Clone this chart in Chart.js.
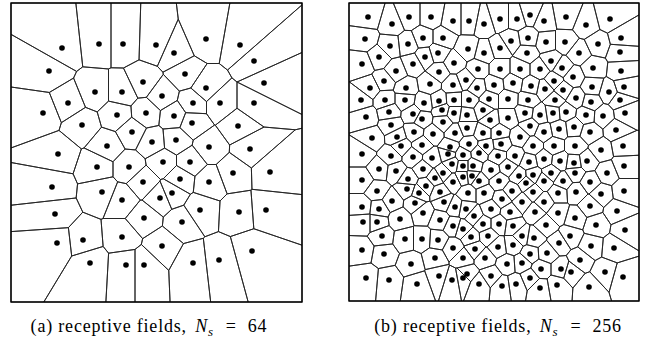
<!DOCTYPE html>
<html>
<head>
<meta charset="utf-8">
<script src="https://cdn.jsdelivr.net/npm/chart.js@4.4.0/dist/chart.umd.min.js"></script>
<style>
  body { margin: 0; background: #fff; width: 650px; height: 343px; position: relative; overflow: hidden; }
  .panel { position: absolute; }
  .panel canvas { display: block; }
  .caption {
    position: absolute; top: 316px; transform: translateX(-50%);
    font-family: "Liberation Serif", "DejaVu Serif", serif; font-size: 18px; line-height: 20px;
    letter-spacing: 0.8px; white-space: nowrap; color: #000;
  }
  .caption .n { margin-left: 3px; }
  .caption sub { font-size: 13px; vertical-align: -4px; line-height: 0; }
  .caption .eq { margin: 0 11px 0 12px; }
</style>
</head>
<body>
<div class="panel" style="left:7px;top:-1px"><canvas id="chartA" width="299" height="307"></canvas></div>
<div class="panel" style="left:345px;top:-1px"><canvas id="chartB" width="298" height="306"></canvas></div>
<div class="caption" id="capA" style="left:149px"></div>
<div class="caption" id="capB" style="left:498px"></div>
<script>
// receptive field centres (x from the left, y from the top)
const sitesA = [
  [62,48],[99,44],[123,44],[156,45],[174,53],[206,39],[240,45],[254,61],
  [49,71],[185,74],[264,83],[143,82],[206,88],[95,92],[122,92],[162,96],
  [68,103],[193,103],[220,103],[254,103],[43,113],[117,115],[146,113],[174,116],
  [82,125],[192,123],[238,126],[132,132],[152,142],[176,140],[107,146],[209,147],
  [250,149],[58,154],[97,167],[129,167],[163,162],[190,162],[233,173],[270,172],
  [180,179],[209,182],[143,182],[52,187],[102,192],[172,193],[160,198],[122,200],
  [55,214],[200,210],[239,212],[266,210],[144,218],[182,222],[83,240],[122,237],
  [57,243],[162,246],[252,251],[90,263],[126,265],[144,265],[193,263],[219,260]
];

const sitesB = [
  [368,17],[392,24],[409,17],[431,17],[365,39],[390,46],[408,44],[423,38],
  [443,38],[379,57],[362,64],[425,57],[438,53],[413,64],[396,71],[439,72],
  [384,81],[430,84],[370,88],[406,88],[361,100],[385,100],[405,100],[424,103],
  [439,101],[389,112],[442,110],[366,117],[413,114],[422,119],[391,125],[443,122],
  [372,138],[397,137],[414,132],[433,134],[401,146],[422,145],[362,154],
  [453,21],[469,21],[484,24],[500,19],[517,19],[530,15],[511,41],[528,38],
  [468,49],[484,53],[500,48],[527,53],[454,63],[478,69],[500,69],[520,69],
  [540,69],[466,80],[494,85],[513,83],[531,86],[453,85],[477,88],[489,99],[508,99],
  [528,100],[454,100],[469,100],[454,113],[467,115],[483,110],[525,113],[490,120],
  [508,118],[540,115],[467,128],[455,133],[483,133],[499,133],[520,137],[530,126],
  [469,144],[486,146],[501,144],[533,146],[450,147],
  [544,21],[566,17],[586,25],[610,19],[546,42],[565,42],[598,44],[621,38],
  [579,53],[620,52],[551,61],[562,68],[593,68],[621,71],[573,77],[554,81],
  [545,89],[563,90],[592,87],[609,92],[624,87],[555,100],[576,98],[591,102],
  [620,100],[553,113],[566,112],[586,115],[603,116],[625,113],[574,127],[544,132],
  [559,129],[590,132],[616,130],[554,146],[575,146],[601,150],[623,146],
  [391,156],[413,157],[432,158],[379,169],[396,171],[423,169],[443,173],[362,180],
  [408,179],[435,178],[426,186],[377,191],[407,189],[419,193],[440,192],[392,201],
  [415,203],[444,202],[362,207],[379,209],[423,213],[400,219],[363,222],[377,222],
  [440,220],[382,236],[405,239],[422,239],[438,240],[362,250],[384,254],[435,258],
  [411,264],[366,278],[389,280],[439,276],[417,284],
  [448,154],[463,155],[479,153],[498,156],[515,156],[529,162],[452,164],[463,166],
  [473,166],[491,170],[508,167],[472,176],[463,177],[519,176],[533,175],[453,182],
  [479,181],[499,181],[526,183],[468,193],[484,193],[512,191],[533,192],[455,207],
  [502,199],[522,202],[466,209],[491,209],[510,212],[535,212],[474,216],[453,226],
  [483,224],[499,224],[513,226],[463,229],[471,237],[488,236],[522,236],[534,238],
  [513,245],[498,247],[453,248],[475,249],[530,254],[463,258],[485,258],[507,264],
  [522,263],[541,269],[467,274],[463,278],[452,280],[491,276],[530,278],[479,284],
  [502,286],[516,284],[540,288],
  [544,159],[560,161],[574,163],[587,161],[624,166],[551,173],[575,173],[607,173],
  [544,181],[563,181],[590,182],[558,193],[576,192],[601,194],[624,191],[544,202],
  [590,206],[617,211],[558,213],[575,218],[546,225],[596,225],[625,230],[570,236],
  [559,243],[591,246],[614,248],[547,253],[580,260],[561,269],[571,272],[605,272],
  [623,277],[557,285],[589,287]
];

// extent of each square (same units as the sites)
const rangeAX = [11, 302], rangeAY = [3, 302];
const rangeBX = [349, 639], rangeBY = [3, 301];

const captionTags = ["(a)", "(b)"];
const captionText = "receptive fields,";
const sampleCounts = [64, 256];

// keep the part of poly where (p - a)·n <= 0
function clipHalf(poly, ax, ay, nx, ny) {
  const out = [];
  for (let k = 0; k < poly.length; k++) {
    const p = poly[k], q = poly[(k + 1) % poly.length];
    const dp = (p[0] - ax) * nx + (p[1] - ay) * ny;
    const dq = (q[0] - ax) * nx + (q[1] - ay) * ny;
    if (dp <= 0) out.push(p);
    if ((dp < 0 && dq > 0) || (dp > 0 && dq < 0)) {
      const t = dp / (dp - dq);
      out.push([p[0] + t * (q[0] - p[0]), p[1] + t * (q[1] - p[1])]);
    }
  }
  return out;
}

function voronoiCells(sites, x0, x1, y0, y1) {
  return sites.map(([sx, sy], i) => {
    let poly = [[x0, y0], [x1, y0], [x1, y1], [x0, y1]];
    sites.forEach(([tx, ty], j) => {
      if (i === j || poly.length === 0) return;
      poly = clipHalf(poly, (sx + tx) / 2, (sy + ty) / 2, tx - sx, ty - sy);
    });
    return poly;
  });
}

const voronoiPlugin = {
  id: "voronoi",
  beforeDatasetsDraw(chart) {
    const { ctx, chartArea: a, scales: { x, y } } = chart;
    const sites = chart.data.datasets[0].data.map((p) => [p.x, p.y]);
    const cells = voronoiCells(sites, x.min, x.max, y.min, y.max);
    ctx.save();
    ctx.strokeStyle = "#222";
    ctx.lineWidth = 0.9;
    ctx.beginPath();
    cells.forEach((poly) => {
      poly.forEach((p, k) => {
        const px = x.getPixelForValue(p[0]), py = y.getPixelForValue(p[1]);
        if (k) ctx.lineTo(px, py); else ctx.moveTo(px, py);
      });
      ctx.closePath();
    });
    ctx.stroke();
    ctx.strokeStyle = "#000";
    ctx.lineWidth = 1.4;
    ctx.strokeRect(a.left, a.top, a.right - a.left, a.bottom - a.top);
    ctx.restore();
  },
};

function makePanel(id, sites, rangeX, rangeY) {
  new Chart(document.getElementById(id), {
    type: "scatter",
    data: {
      datasets: [{
        data: sites.map(([x, y]) => ({ x, y })),
        pointRadius: 2.8,
        pointBackgroundColor: "#000",
        pointBorderWidth: 0,
      }],
    },
    options: {
      responsive: false,
      animation: false,
      layout: { padding: 4 },
      plugins: { legend: { display: false }, tooltip: { enabled: false } },
      scales: {
        x: { type: "linear", min: rangeX[0], max: rangeX[1], display: false },
        y: { type: "linear", min: rangeY[0], max: rangeY[1], reverse: true, display: false },
      },
    },
    plugins: [voronoiPlugin],
  });
}

makePanel("chartA", sitesA, rangeAX, rangeAY);
makePanel("chartB", sitesB, rangeBX, rangeBY);

["capA", "capB"].forEach((id, i) => {
  document.getElementById(id).innerHTML =
    `${captionTags[i]} ${captionText} <i class="n">N</i><sub><i>s</i></sub><span class="eq">=</span>${sampleCounts[i]}`;
});
</script>
</body>
</html>
